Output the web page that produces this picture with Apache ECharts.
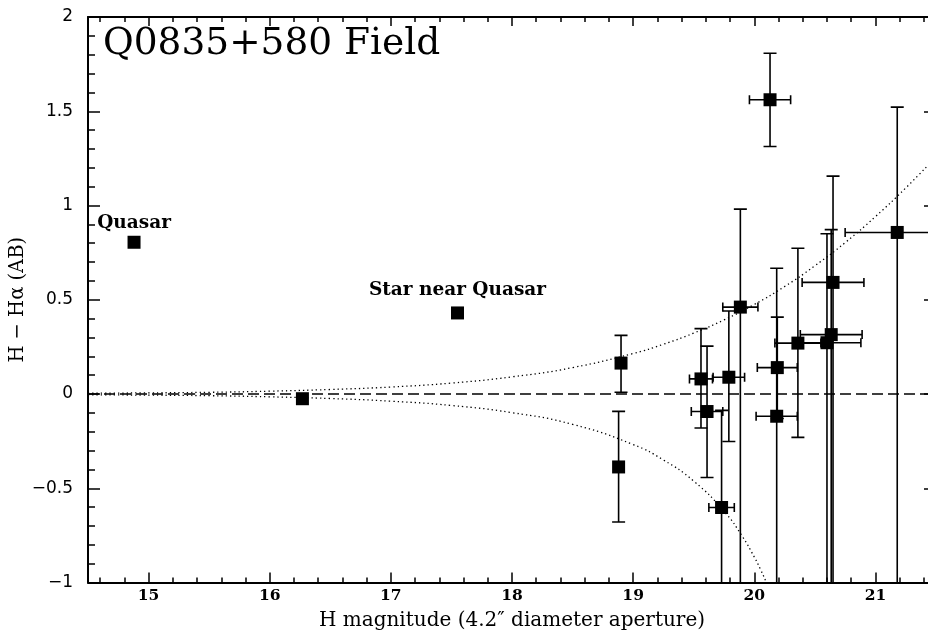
<!DOCTYPE html>
<html><head><meta charset="utf-8">
<script src="https://cdn.jsdelivr.net/npm/echarts@6/dist/echarts.min.js"></script>
<style>html,body{margin:0;padding:0;background:#fff}#c{width:928px;height:631px}</style>
</head><body><div id="c"></div>
<script>
// ---- data ----
const hMag     = [14.88, 17.55, 16.27, 18.90, 18.88, 19.56, 19.61, 19.79, 19.885, 19.73, 20.13, 20.19, 20.185, 20.36, 20.60, 20.635, 20.65, 21.18];
const hMinusHa = [0.805, 0.43, -0.025, 0.164, -0.387, 0.08, -0.093, 0.089, 0.461, -0.602, 1.561, 0.14, -0.118, 0.27, 0.272, 0.315, 0.592, 0.857];
const hMagErr  = [0, 0, 0, 0, 0, 0.095, 0.13, 0.13, 0.145, 0.105, 0.17, 0.165, 0.17, 0.19, 0.28, 0.255, 0.255, 0.43];
const colErrUp = [0, 0, 0, 0.147, 0.295, 0.267, 0.347, 0.351, 0.52, 0.515, 0.247, 0.268, 0.785, 0.503, 0.578, 0.557, 0.564, 0.665];
const colErrDn = [0, 0, 0, 0.155, 0.292, 0.26, 0.35, 0.341, 1.6, 0.6, 0.248, 0.27, 1.2, 0.5, 1.5, 1.5, 1.8, 2.0];
const pointLabels = ['Quasar', 'Star near Quasar', '', '', '', '', '', '', '', '', '', '', '', '', '', '', '', ''];

// dotted envelope curves
const upperX = [14.5, 15, 15.5, 16, 16.5, 17, 17.5, 18, 18.5, 19, 19.25, 19.5, 19.75, 20, 20.25, 20.5, 20.75, 21, 21.25, 21.5];
const upperY = [0.004, 0.006, 0.009, 0.015, 0.024, 0.037, 0.058, 0.091, 0.140, 0.215, 0.264, 0.323, 0.393, 0.475, 0.570, 0.680, 0.803, 0.941, 1.093, 1.258];
const lowerX = [14.5, 15, 15.5, 16, 16.5, 17, 17.5, 18, 18.5, 19, 19.25, 19.5, 19.75, 19.9, 20, 20.05, 20.1, 20.13];
const lowerY = [-0.004, -0.006, -0.009, -0.015, -0.024, -0.038, -0.061, -0.099, -0.161, -0.268, -0.350, -0.462, -0.622, -0.754, -0.865, -0.929, -1.0, -1.047];

// axes
const X_MIN = 14.5, X_MAX = 21.5, Y_MIN = -1, Y_MAX = 2;
const xMajorTicks = [15, 16, 17, 18, 19, 20, 21];
const xMinorTicks = [];
for (let v = 14.6; v < X_MAX; v += 0.2) {
  const r = Math.round(v * 10) / 10;
  if (Math.abs(r - Math.round(r)) > 1e-6) xMinorTicks.push(r);
}
const titleText = 'Q0835+580 Field';
const xName = 'H magnitude (4.2\u2033 diameter aperture)';
const yName = 'H \u2212 H\u03b1 (AB)';

const SERIF = "'DejaVu Serif', 'Liberation Serif', serif";
const labelDist = {'Quasar': 3, 'Star near Quasar': 7};

const lineSt = {color: '#000', width: 2};
function xAxisDef(pos, ticks, len, showLine, withLabels) {
  return {
    type: 'value', position: pos, min: X_MIN, max: X_MAX,
    axisLine: {show: showLine, onZero: false, lineStyle: lineSt},
    axisTick: {show: true, inside: true, length: len, customValues: ticks, lineStyle: {color: '#000', width: 1.5}},
    axisLabel: withLabels ? {show: true, customValues: ticks, margin: 5, color: '#000', fontFamily: SERIF, fontWeight: 'bold', fontSize: 15.5} : {show: false},
    splitLine: {show: false}
  };
}
function yAxisDef(pos, withLabels) {
  return {
    type: 'value', position: pos, min: Y_MIN, max: Y_MAX, interval: 0.5,
    axisLine: {show: true, onZero: false, lineStyle: lineSt},
    axisTick: {show: true, inside: true, length: 12, lineStyle: {color: '#000', width: 1.5}},
    minorTick: {show: true, splitNumber: 5, length: 7, lineStyle: {color: '#000', width: 1.5}},
    axisLabel: withLabels ? {show: true, margin: 15, color: '#000', fontFamily: "'DejaVu Sans', sans-serif", fontSize: 17,
      formatter: v => String(v).replace('-', '\u2212')} : {show: false},
    splitLine: {show: false}
  };
}

const xAxes = [
  xAxisDef('bottom', xMajorTicks, 10, true, true),
  xAxisDef('bottom', xMinorTicks, 5, false, false),
  xAxisDef('top', xMajorTicks, 9, true, false),
  xAxisDef('top', xMinorTicks, 5, false, false)
];
Object.assign(xAxes[0], {name: xName, nameLocation: 'middle', nameGap: 28, nameMoveOverlap: false,
  nameTextStyle: {color: '#000', fontFamily: SERIF, fontSize: 20}});
const yAxes = [yAxisDef('left', true), yAxisDef('right', false)];
Object.assign(yAxes[0], {name: yName, nameLocation: 'middle', nameGap: 60, nameRotate: 90, nameMoveOverlap: false,
  nameTextStyle: {color: '#000', fontFamily: SERIF, fontSize: 19.5}});

const pts = hMag.map((x, i) => [x, hMinusHa[i], hMagErr[i], colErrUp[i], colErrDn[i]]);
const scatterData = hMag.map((x, i) => {
  const item = {value: [x, hMinusHa[i]], name: pointLabels[i]};
  if (pointLabels[i]) item.label = {show: true, distance: labelDist[pointLabels[i]] || 5};
  return item;
});

function renderErr(params, api) {
  const x = api.value(0), y = api.value(1), xe = api.value(2), yu = api.value(3), yd = api.value(4);
  const st = {stroke: '#000', lineWidth: 1.6};
  const ch = [];
  const capW = 6.5, capH = 4.5;
  if (yu > 0 || yd > 0) {
    const top = Math.min(y + yu, Y_MAX), bot = Math.max(y - yd, Y_MIN);
    const p1 = api.coord([x, top]), p2 = api.coord([x, bot]);
    ch.push({type: 'line', shape: {x1: p1[0], y1: p1[1], x2: p2[0], y2: p2[1]}, style: st});
    if (y + yu <= Y_MAX) ch.push({type: 'line', shape: {x1: p1[0] - capW, y1: p1[1], x2: p1[0] + capW, y2: p1[1]}, style: st});
    if (y - yd >= Y_MIN) ch.push({type: 'line', shape: {x1: p2[0] - capW, y1: p2[1], x2: p2[0] + capW, y2: p2[1]}, style: st});
  }
  if (xe > 0) {
    const lo = Math.max(x - xe, X_MIN), hi = Math.min(x + xe, X_MAX);
    const q1 = api.coord([lo, y]), q2 = api.coord([hi, y]);
    ch.push({type: 'line', shape: {x1: q1[0], y1: q1[1], x2: q2[0], y2: q2[1]}, style: st});
    if (x - xe >= X_MIN) ch.push({type: 'line', shape: {x1: q1[0], y1: q1[1] - capH, x2: q1[0], y2: q1[1] + capH}, style: st});
    if (x + xe <= X_MAX) ch.push({type: 'line', shape: {x1: q2[0], y1: q2[1] - capH, x2: q2[0], y2: q2[1] + capH}, style: st});
  }
  return {type: 'group', children: ch};
}

const chart = echarts.init(document.getElementById('c'), null, {renderer: 'canvas'});
chart.setOption({
  animation: false,
  backgroundColor: '#fff',
  grid: {left: 88, right: -8, top: 17, bottom: 48.5, containLabel: false, outerBoundsMode: 'none'},
  title: {text: titleText, left: 98, top: 20,
    textStyle: {color: '#000', fontFamily: SERIF, fontWeight: 'normal', fontSize: 37.5}},
  xAxis: xAxes,
  yAxis: yAxes,
  series: [
    {type: 'line', data: upperX.map((x, i) => [x, upperY[i]]), showSymbol: false, smooth: 0.5,
      lineStyle: {color: '#000', width: 1.3, type: [1.3, 3]}, clip: true, z: 1, silent: true,
      markLine: {silent: true, symbol: ['none', 'none'], label: {show: false},
        lineStyle: {color: '#000', width: 1.5, type: [11, 5]}, data: [{yAxis: 0}]}},
    {type: 'line', data: lowerX.map((x, i) => [x, lowerY[i]]), showSymbol: false, smooth: 0.5,
      lineStyle: {color: '#000', width: 1.3, type: [1.3, 3]}, clip: true, z: 1, silent: true},
    {type: 'custom', data: pts, renderItem: renderErr, encode: {x: 0, y: 1}, z: 2, silent: true, clip: true},
    {type: 'scatter', data: scatterData, symbol: 'rect', symbolSize: 13, z: 3,
      itemStyle: {color: '#000', opacity: 1},
      label: {show: false, position: 'top', formatter: p => p.name, color: '#000',
        fontFamily: SERIF, fontWeight: 'bold', fontSize: 18.5}}
  ]
});
</script></body></html>
